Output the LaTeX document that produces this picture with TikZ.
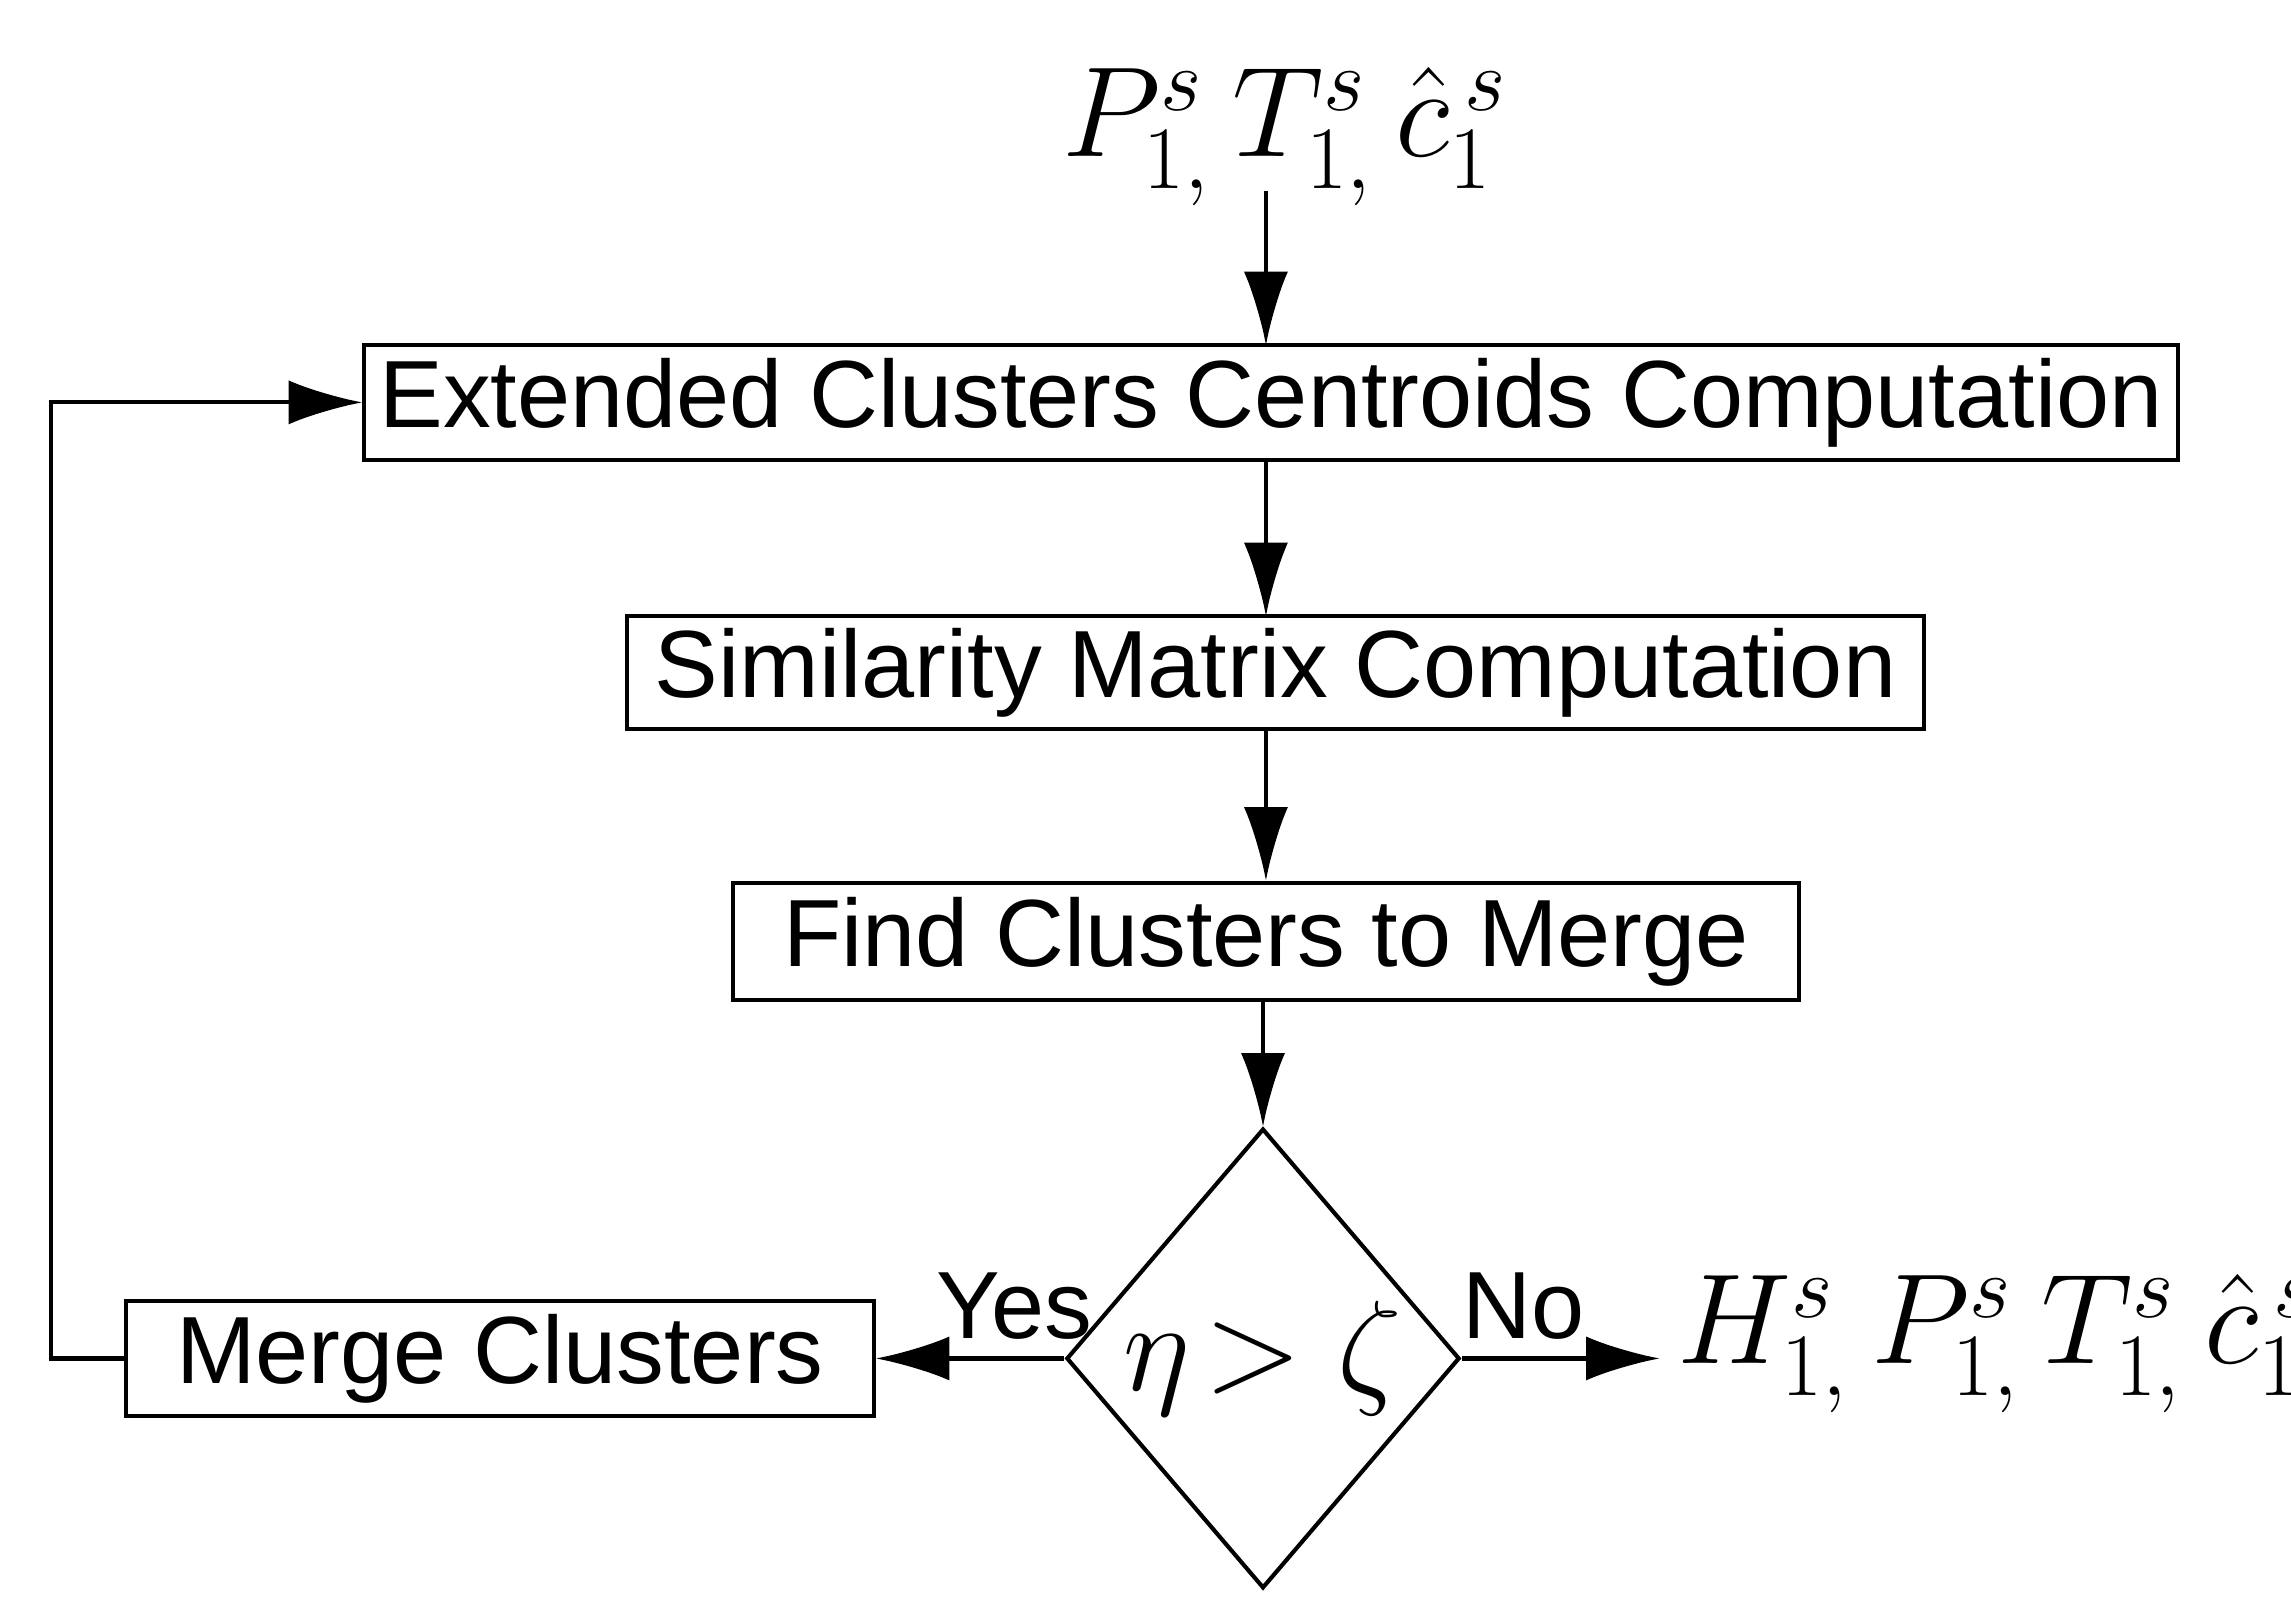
\documentclass[tikz,border=0pt]{standalone}
\usepackage{fontspec}
\setmainfont{Liberation Sans}
\usetikzlibrary{shapes.geometric,arrows.meta}
\tikzstyle{stage} = [draw, thick, inner sep=0pt, font=\fontsize{18.5}{22}\selectfont]
\tikzstyle{flow} = [thick, -{Latex[length=0.5cm,width=0.3cm]}]
\begin{document}
\begin{tikzpicture}
  \useasboundingbox (0,0) rectangle (15.6,11.03);

  % Inputs and steps
  \node[font=\fontsize{24}{28}\selectfont] (in) at (8.75,10.1) {$P^{s}_{1,}\,T^{s}_{1,}\,\hat{c}^{\,s}_{1}$};
  \node[stage, minimum width=12.35cm, minimum height=0.78cm] (ext) at (8.655,8.29) {Extended Clusters Centroids Computation};
  \node[stage, minimum width=8.83cm, minimum height=0.77cm] (sim) at (8.685,6.45) {Similarity Matrix Computation};
  \node[stage, minimum width=7.26cm, minimum height=0.8cm] (find) at (8.62,4.62) {Find Clusters to Merge};
  \node[draw, thick, diamond, minimum width=2.63cm, minimum height=3.13cm, inner sep=0pt,
        font=\fontsize{24}{28}\selectfont] (test) at (8.6,1.78) {$\eta\!>\zeta$};
  \node[stage, minimum width=5.09cm, minimum height=0.78cm] (merge) at (3.405,1.78) {Merge Clusters};
  \node[font=\fontsize{24}{28}\selectfont, anchor=west] (out) at (11.3,1.88) {$H^{s}_{1,}\,P^{s}_{1,}\,T^{s}_{1,}\,\hat{c}^{\,s}_{1}$};
  \coordinate (loop) at (0.35,1.78);

  % Connectors
  \draw[flow] (8.62,9.73) -- (8.62,8.68);
  \draw[flow] (8.62,7.9) -- (8.62,6.835);
  \draw[flow] (8.62,6.065) -- (find.north);
  \draw[flow] (8.6,4.22) -- (test.north);
  \draw[flow] (test) -- node[above, font=\fontsize{18.5}{22}\selectfont, xshift=0.3cm] {Yes} (merge);
  \draw[flow] (test.east) -- node[above, font=\fontsize{18.5}{22}\selectfont, xshift=-0.25cm] {No} (test.east -| out.west);
  \draw[flow] (merge.west) -- (loop) |- (ext.west);
\end{tikzpicture}
\end{document}
